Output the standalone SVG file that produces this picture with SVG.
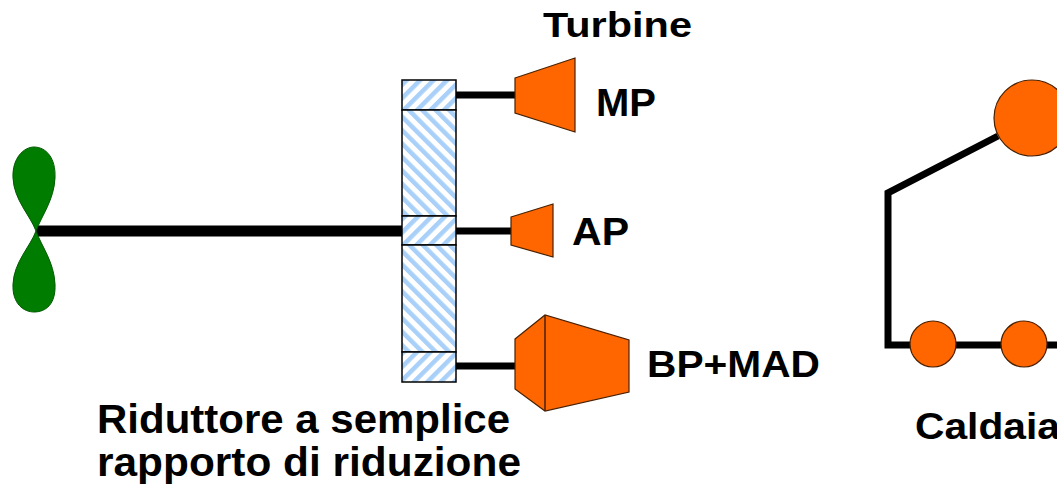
<svg xmlns="http://www.w3.org/2000/svg" width="1057" height="492" viewBox="0 0 1057 492">
<defs>
<style>
.t{font-family:"Liberation Sans",Arial,sans-serif;font-weight:bold;fill:#000;}
.turb{fill:#ff6600;stroke:#4a2000;stroke-width:1.2;stroke-linejoin:miter;}
.shaft{stroke:#000;fill:none;}
.gear{stroke:#000;stroke-width:1.5;}
</style>
<pattern id="hs" patternUnits="userSpaceOnUse" width="9.5" height="9.5" patternTransform="rotate(45)">
<rect width="9.5" height="9.5" fill="#fff"/>
<rect width="4.5" height="9.5" fill="#a8d0f8"/>
</pattern>
<pattern id="hb" patternUnits="userSpaceOnUse" width="9.5" height="9.5" patternTransform="rotate(-45)">
<rect width="9.5" height="9.5" fill="#fff"/>
<rect width="4.5" height="9.5" fill="#a8d0f8"/>
</pattern>
</defs>
<rect width="1057" height="492" fill="#fff"/>
<g id="connectors">
<line class="shaft" x1="36" y1="231" x2="402" y2="231" stroke-width="11"/>
<line class="shaft" x1="456" y1="95" x2="516" y2="95" stroke-width="7"/>
<line class="shaft" x1="456" y1="231" x2="512" y2="231" stroke-width="7"/>
<line class="shaft" x1="456" y1="366" x2="516" y2="366" stroke-width="7"/>
<polyline class="shaft" points="998,136 888,193 888,345 1057,345" stroke-width="7" stroke-linejoin="miter"/>
</g>
<g id="propeller">
<path d="M36,231 C30,215 14,200 13,178 C12,158 24,147 34,147 C46,147 56,158 55,178 C54,200 42,215 36,231 Z" fill="#007d00" stroke="#005a00" stroke-width="1"/>
<path d="M36,231 C30,247 14,262 13,284 C12,304 24,312 34,312 C46,312 56,304 55,284 C54,262 42,247 36,231 Z" fill="#007d00" stroke="#005a00" stroke-width="1"/>
</g>
<g id="riduttore">
<rect class="gear" x="402" y="80" width="54" height="30" fill="url(#hs)"/>
<rect class="gear" x="402" y="110" width="54" height="106" fill="url(#hb)"/>
<rect class="gear" x="402" y="216" width="54" height="29" fill="url(#hs)"/>
<rect class="gear" x="402" y="245" width="54" height="107" fill="url(#hb)"/>
<rect class="gear" x="402" y="352" width="54" height="30" fill="url(#hs)"/>
</g>
<g id="turbina-mp">
<polygon class="turb" points="515,78 575,58 575,132 515,113"/>
</g>
<g id="turbina-ap">
<polygon class="turb" points="511,217 553,204 553,257 511,245"/>
</g>
<g id="turbina-bp">
<polygon class="turb" points="515,339 545,315 629,340 629,392 545,411 515,389"/>
<line x1="545" y1="315" x2="545" y2="411" stroke="#4a2000" stroke-width="1.5"/>
</g>
<g id="caldaia">
<circle class="turb" cx="1032" cy="118" r="38"/>
<circle class="turb" cx="933" cy="344" r="23"/>
<circle class="turb" cx="1024" cy="344" r="23"/>
</g>
<g id="labels">
<text class="t" x="543" y="37" font-size="35" textLength="149" lengthAdjust="spacingAndGlyphs">Turbine</text>
<text class="t" x="596" y="116" font-size="38" textLength="60" lengthAdjust="spacingAndGlyphs">MP</text>
<text class="t" x="572" y="245" font-size="38" textLength="57" lengthAdjust="spacingAndGlyphs">AP</text>
<text class="t" x="647" y="377" font-size="37" textLength="173" lengthAdjust="spacingAndGlyphs">BP+MAD</text>
<text class="t" x="97" y="433" font-size="40" textLength="413" lengthAdjust="spacingAndGlyphs">Riduttore a semplice</text>
<text class="t" x="97" y="476" font-size="40" textLength="424" lengthAdjust="spacingAndGlyphs">rapporto di riduzione</text>
<text class="t" x="915" y="439" font-size="37" textLength="145" lengthAdjust="spacingAndGlyphs">Caldaia</text>
</g>
</svg>
